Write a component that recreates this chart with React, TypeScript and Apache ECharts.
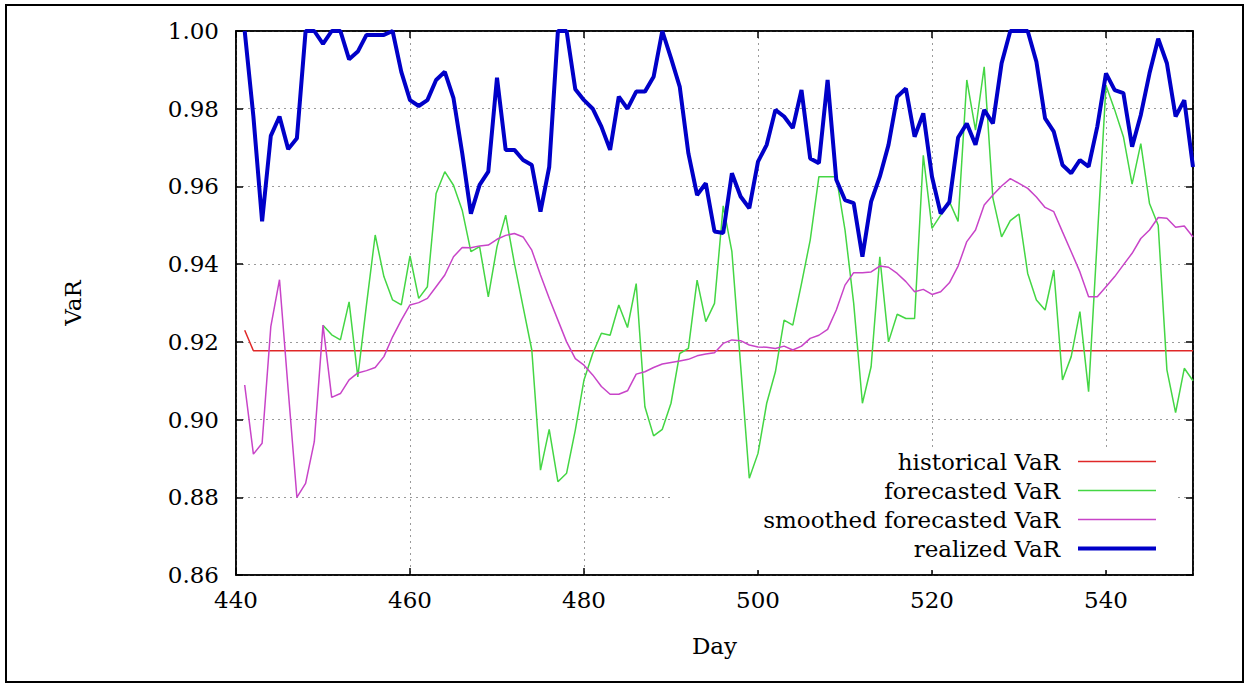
import React, { useEffect, useRef } from "react";
import * as echarts from "echarts";

// ---- data ----
const startDay = 441;
const realizedVaR = [
  1.0, 0.978, 0.951, 0.973, 0.978, 0.9696, 0.9724, 1.0, 1.0, 0.9967,
  1.0, 1.0, 0.9927, 0.9947, 0.999, 0.999, 0.999, 1.0, 0.9895, 0.9822,
  0.9807, 0.9822, 0.9874, 0.9895, 0.9827, 0.9686, 0.953, 0.9604, 0.9638, 0.988,
  0.9694, 0.9694, 0.9668, 0.9655, 0.9535, 0.965, 1.0, 1.0, 0.985, 0.9822,
  0.98, 0.9754, 0.9694, 0.9831, 0.98, 0.9844, 0.9844, 0.9882, 1.0, 0.993,
  0.9857, 0.9685, 0.9578, 0.9608, 0.9484, 0.948, 0.9634, 0.9574, 0.9544, 0.9664,
  0.9707, 0.9797, 0.978, 0.975, 0.9848, 0.9672, 0.966, 0.9874, 0.9617, 0.9565,
  0.9557, 0.9419, 0.9561, 0.9625, 0.9707, 0.9831, 0.9852, 0.9728, 0.9788, 0.9625,
  0.953, 0.956, 0.9726, 0.9762, 0.9707, 0.9797, 0.9762, 0.9917, 1.0, 1.0,
  1.0, 0.9921, 0.9775, 0.9741, 0.9655, 0.9634, 0.9668, 0.9651, 0.9754, 0.9891,
  0.9848, 0.984, 0.9702, 0.9784, 0.9891, 0.998, 0.9917, 0.978, 0.9822, 0.965,
];
const smoothedVaR = [
  0.9089, 0.8911, 0.8939, 0.9239, 0.936, 0.9076, 0.88, 0.8836, 0.8943, 0.9243,
  0.9057, 0.9067, 0.9102, 0.912, 0.9126, 0.9134, 0.9162, 0.9213, 0.9256, 0.9295,
  0.9301, 0.9312, 0.9342, 0.9372, 0.9419, 0.9443, 0.9442, 0.9447, 0.9449, 0.9464,
  0.9474, 0.9479, 0.947, 0.9436, 0.9372, 0.9312, 0.9256, 0.92, 0.9157, 0.914,
  0.9115, 0.9085, 0.9065, 0.9065, 0.9074, 0.9117, 0.9123, 0.9134, 0.9143, 0.9147,
  0.9151, 0.9155, 0.9164, 0.9169, 0.9172, 0.9196, 0.9205, 0.9203, 0.9192, 0.9187,
  0.9186, 0.9183, 0.9189, 0.9179, 0.9189, 0.9209, 0.9217, 0.9232, 0.9282, 0.9346,
  0.9378, 0.9378, 0.938, 0.9395, 0.9392, 0.9376, 0.9355, 0.9329, 0.9335, 0.9322,
  0.9329, 0.9352, 0.9395, 0.9458, 0.9488, 0.9552, 0.9578, 0.9601, 0.962, 0.9608,
  0.9595, 0.9573, 0.9546, 0.9535, 0.9483, 0.9432, 0.938, 0.9316, 0.9316, 0.9342,
  0.9368, 0.9398, 0.9428, 0.9466, 0.9488, 0.952, 0.9518, 0.9495, 0.9498, 0.947,
];
const forecastStartDay = 450;
const forecastedVaR = [
  0.9243, 0.9218, 0.9205, 0.9303, 0.911, 0.9296, 0.9475, 0.9368, 0.9308, 0.9295,
  0.9421, 0.9312, 0.9342, 0.9582, 0.9638, 0.9603, 0.9539, 0.9432, 0.9445, 0.9316,
  0.9445, 0.9526, 0.9402, 0.929, 0.9179, 0.887, 0.8975, 0.884, 0.8862, 0.8973,
  0.9102, 0.917, 0.9222, 0.9217, 0.9295, 0.9237, 0.935, 0.9033, 0.8958, 0.8975,
  0.9042, 0.917, 0.9183, 0.9359, 0.9252, 0.9299, 0.955, 0.9432, 0.914, 0.8849,
  0.8913, 0.9042, 0.9123, 0.9256, 0.9243, 0.935, 0.9462, 0.9625, 0.9625, 0.9625,
  0.9488, 0.9299, 0.9042, 0.9136, 0.9419, 0.92, 0.9271, 0.926, 0.926, 0.968,
  0.9492, 0.9526, 0.9561, 0.951, 0.9874, 0.9745, 0.9908, 0.957, 0.947, 0.9512,
  0.9529, 0.9376, 0.9308, 0.9282, 0.9385, 0.9102, 0.9162, 0.9278, 0.9072, 0.9466,
  0.986, 0.9797, 0.9728, 0.9606, 0.971, 0.9556, 0.95, 0.9128, 0.9018, 0.9132,
  0.91,
];
const historicalDays = [441, 442, 550];
const historicalVaR = [0.923, 0.9177, 0.9177];

const seriesNames = ["historical VaR", "forecasted VaR", "smoothed forecasted VaR", "realized VaR"];
const seriesColors = ["#e02828", "#44d644", "#c844c8", "#0000c8"];
const seriesWidths = [1.5, 1.5, 1.5, 4];

const xMin = 440;
const xMax = 550;
const xStep = 20;
const yMin = 0.86;
const yMax = 1.0;
const yStep = 0.02;

const FONT = "DejaVu Serif";

function pairs(start: number, values: number[]) {
  return values.map((v, i) => [start + i, v]);
}

export default function App() {
  const ref = useRef<HTMLDivElement>(null);

  useEffect(() => {
    if (!ref.current) return;
    const chart = echarts.init(ref.current, undefined, { renderer: "svg" });

    const axisLine = { show: true, onZero: false, lineStyle: { color: "#000", width: 1.5 } };
    const axisTick = { show: true, inside: true, length: 7, lineStyle: { color: "#000", width: 1.5 } };
    const splitLine = { show: true, lineStyle: { color: "#9a9a9a", type: [2, 4], width: 1 } };
    const labelStyle = { color: "#000", fontFamily: FONT, fontSize: 23 };

    const seriesData = [
      historicalDays.map((d, i) => [d, historicalVaR[i]]),
      pairs(forecastStartDay, forecastedVaR),
      pairs(startDay, smoothedVaR),
      pairs(startDay, realizedVaR),
    ];

    const option: any = {
      animation: false,
      backgroundColor: "#ffffff",
      textStyle: { fontFamily: FONT },
      grid: {
        left: 236,
        right: 56,
        top: 31,
        bottom: 109,
        show: true,
        borderColor: "#000",
        borderWidth: 1.5,
        backgroundColor: "transparent",
      },
      xAxis: [
        {
          type: "value",
          min: xMin,
          max: xMax,
          interval: xStep,
          position: "bottom",
          axisLine,
          axisTick,
          splitLine,
          axisLabel: {
            ...labelStyle,
            margin: 13,
            showMaxLabel: false,
            formatter: (v: number) => (v % xStep === 0 ? String(v) : ""),
          },
          name: "Day",
          nameLocation: "middle",
          nameGap: 59,
          nameTextStyle: { ...labelStyle },
        },
        {
          type: "value",
          min: xMin,
          max: xMax,
          interval: xStep,
          position: "top",
          axisLine,
          axisTick,
          splitLine: { show: false },
          axisLabel: { show: false },
        },
      ],
      yAxis: [
        {
          type: "value",
          min: yMin,
          max: yMax,
          interval: yStep,
          position: "left",
          axisLine,
          axisTick,
          splitLine,
          axisLabel: {
            ...labelStyle,
            margin: 17,
            formatter: (v: number) => v.toFixed(2),
          },
          name: "VaR",
          nameLocation: "middle",
          nameRotate: 90,
          nameGap: 152,
          nameTextStyle: { ...labelStyle },
        },
        {
          type: "value",
          min: yMin,
          max: yMax,
          interval: yStep,
          position: "right",
          axisLine,
          axisTick,
          splitLine: { show: false },
          axisLabel: { show: false },
        },
      ],
      legend: {
        orient: "vertical",
        right: 73,
        top: 450,
        align: "right",
        itemWidth: 78,
        itemHeight: 14,
        itemGap: 6,
        z: 1,
        backgroundColor: "#ffffff",
        padding: [0, 18, 10, 91],
        itemStyle: { opacity: 0, borderWidth: 0 },
        textStyle: {
          fontFamily: FONT,
          fontSize: 23,
          lineHeight: 23,
          color: "#000",
          padding: [0, 13, 0, 0],
        },
        data: seriesNames.map((name, i) => ({
          name,
          lineStyle: { color: seriesColors[i], width: seriesWidths[i] },
          itemStyle: { opacity: 0, borderWidth: 0 },
        })),
      },
      series: seriesNames.map((name, i) => ({
        name,
        type: "line",
        data: seriesData[i],
        symbol: "none",
        color: seriesColors[i],
        lineStyle: { color: seriesColors[i], width: seriesWidths[i] },
        z: 2 + i,
      })),
      graphic: [
        {
          type: "rect",
          shape: { x: 6, y: 5, width: 1237, height: 677 },
          style: { fill: "none", stroke: "#000", lineWidth: 2 },
          silent: true,
        },
      ],
    };

    chart.setOption(option);
    return () => chart.dispose();
  }, []);

  return (
    <div
      ref={ref}
      style={{ position: "fixed", left: 0, top: 0, width: "1249px", height: "684px", background: "#fff" }}
    />
  );
}
